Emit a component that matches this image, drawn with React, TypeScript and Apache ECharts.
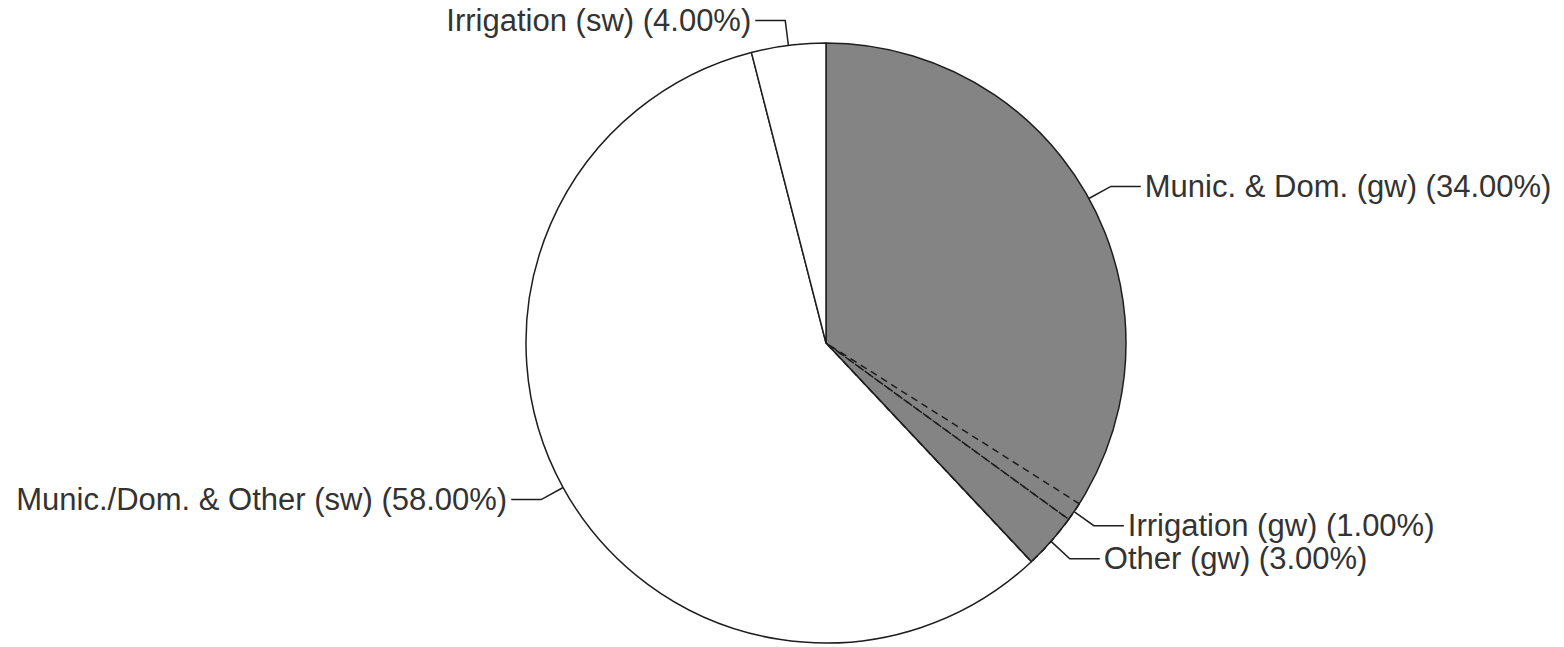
import React, { useEffect, useRef } from "react";
import * as echarts from "echarts";

// Water use shares by source (gw = groundwater, sw = surface water)
const categories = [
  "Munic. & Dom. (gw)",
  "Irrigation (gw)",
  "Other (gw)",
  "Munic./Dom. & Other (sw)",
  "Irrigation (sw)",
];
const shares = [34, 1, 3, 58, 4];
const isGroundwater = [true, true, true, false, false];

const GRAY = "#848484";
const INK = "#1e1e1e";
const TEXT = "#333333";

export default function App() {
  const ref = useRef<HTMLDivElement>(null);

  useEffect(() => {
    if (!ref.current) return;
    const chart = echarts.init(ref.current, undefined, { renderer: "svg" });

    // Outline layer: groundwater merged into one gray wedge, surface water slices white
    const outline: { name: string; value: number; gw: boolean }[] = [];
    categories.forEach((name, i) => {
      const last = outline[outline.length - 1];
      if (isGroundwater[i] && last && last.gw) {
        last.value += shares[i];
      } else {
        outline.push({ name, value: shares[i], gw: isGroundwater[i] });
      }
    });

    const center = ["826px", "343px"];
    const radius = 300;

    chart.setOption({
      animation: false,
      backgroundColor: "#ffffff",
      series: [
        {
          type: "pie",
          center,
          radius,
          startAngle: 90,
          clockwise: true,
          silent: true,
          avoidLabelOverlap: false,
          label: { show: false },
          labelLine: { show: false },
          data: outline.map((d) => ({
            name: d.name,
            value: d.value,
            itemStyle: {
              color: d.gw ? GRAY : "#ffffff",
              borderColor: INK,
              borderWidth: 1.5,
            },
          })),
        },
        {
          type: "pie",
          center,
          radius,
          startAngle: 90,
          clockwise: true,
          silent: true,
          avoidLabelOverlap: true,
          data: categories.map((name, i) => {
            const dashed = isGroundwater[i] && i > 0;
            return {
              name,
              value: shares[i],
              itemStyle: {
                color: "rgba(0,0,0,0)",
                borderColor: dashed ? INK : "rgba(0,0,0,0)",
                borderWidth: dashed ? 1.5 : 0,
                borderType: dashed ? [7, 5] : "solid",
              },
            };
          }),
          label: {
            show: true,
            color: TEXT,
            fontFamily: "'Liberation Sans', Arial, sans-serif",
            fontSize: 31,
            distanceToLabelLine: 4,
            formatter: (p: any) => `${p.name} (${p.percent.toFixed(2)}%)`,
          },
          labelLine: {
            show: true,
            length: 25,
            length2: 30,
            smooth: false,
            lineStyle: { color: INK, width: 1.5 },
          },
        },
      ],
    });

    return () => chart.dispose();
  }, []);

  return (
    <div
      ref={ref}
      style={{ position: "absolute", left: 0, top: 0, width: 1564, height: 647 }}
    />
  );
}
